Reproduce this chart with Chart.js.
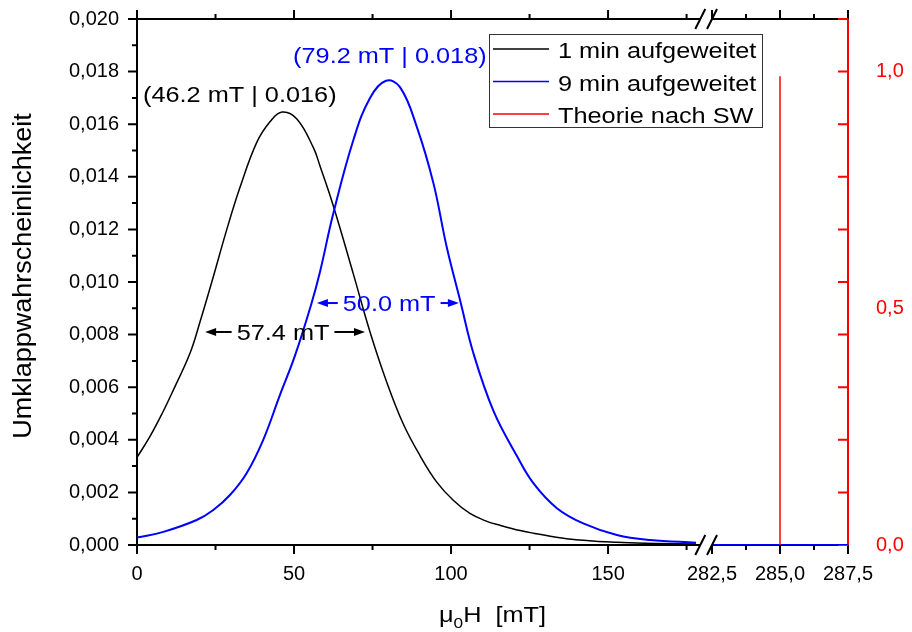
<!DOCTYPE html>
<html>
<head>
<meta charset="utf-8">
<script src="https://cdn.jsdelivr.net/npm/chart.js@4"></script>
<style>
    body { margin: 0; background: #fff; }
</style>
</head>
<body>
<canvas id="chart" width="912" height="632"></canvas>
<script>
// Werte (Feld in mT, Wahrscheinlichkeit)
const blackField = [0, 4, 8, 11.6, 16.9, 20.1, 24.3, 28.6, 32.8, 38.1, 42.4, 46.2, 50.9, 56.2, 58.3, 62.5, 68.9, 74.2, 79.5, 84.8, 90.1, 95.4, 100.7, 106, 111.4, 115.6, 122, 126.2, 136.8, 152.8, 165, 178, null, 282.5, 287.5];
const blackProb = [0.00333, 0.0041, 0.0050, 0.0059, 0.0073, 0.0085, 0.0102, 0.0120, 0.0136, 0.0153, 0.0161, 0.01646, 0.0162, 0.0151, 0.0144, 0.0129, 0.0103, 0.0081, 0.0062, 0.0046, 0.0034, 0.0024, 0.0017, 0.0012, 0.0009, 0.00075, 0.00055, 0.00045, 0.00024, 0.0001, 0.00006, 0.00004, null, 0, 0];

const blueField = [0, 8.4, 19, 24.3, 29.6, 34.9, 40.2, 45.5, 50.3, 55.6, 58.3, 62.5, 68.9, 74.2, 79.3, 83.8, 89.1, 94.4, 98.6, 102.9, 107.1, 113.5, 120.9, 126.2, 133.7, 142.1, 152.8, 163.4, 178, null, 282.5, 287.5];
const blueProb = [0.00028, 0.0005, 0.00095, 0.00133, 0.0019, 0.00273, 0.0040, 0.0057, 0.0072, 0.0092, 0.0104, 0.0126, 0.0154, 0.0170, 0.01765, 0.0174, 0.0159, 0.01375, 0.01134, 0.0093, 0.0073, 0.0051, 0.0034, 0.00235, 0.0014, 0.00082, 0.00038, 0.00019, 0.00009, null, 0, 0];

const swField = [285, 285];
const swProb = [0.99, 0];

const seriesLabels = ['1 min aufgeweitet', '9 min aufgeweitet', 'Theorie nach SW'];

const xTickFields = [0, 50, 100, 150, 282.5, 285, 287.5];
const xTickLabels = ['0', '50', '100', '150', '282,5', '285,0', '287,5'];
const xMinorFields = [25, 75, 125, 175, 283.75, 286.25];
const yTicks = [0, 0.002, 0.004, 0.006, 0.008, 0.010, 0.012, 0.014, 0.016, 0.018, 0.020];
const yMinorTicks = [0.001, 0.003, 0.005, 0.007, 0.009, 0.011, 0.013, 0.015, 0.017, 0.019];
const swTicks = [0, 0.5, 1.0];

// gebrochene x-Achse: 0..180 linear, danach 282,5..287,5 gestreckt
const LEFT_END = 180;
const RIGHT_START = 282.5;
const RIGHT_END = 287.5;
const RIGHT_U0 = 183.1;
const RIGHT_SCALE = 8.66;
const U_MAX = RIGHT_U0 + (RIGHT_END - RIGHT_START) * RIGHT_SCALE;

function toAxis(field) {
    if (field === null) return (LEFT_END + RIGHT_U0) / 2;
    return field <= LEFT_END ? field : RIGHT_U0 + (field - RIGHT_START) * RIGHT_SCALE;
}

function pairs(fields, values) {
    return fields.map((f, i) => ({x: toAxis(f), y: values[i]}));
}

const FONT = 'Liberation Sans, Arial, sans-serif';
Chart.defaults.font.family = FONT;

function stretchedText(ctx, text, x, y, size, color, sx, align) {
    ctx.save();
    ctx.font = size + 'px ' + FONT;
    ctx.fillStyle = color;
    ctx.textBaseline = 'alphabetic';
    let w = ctx.measureText(text).width * sx;
    let left = align === 'center' ? x - w / 2 : x;
    ctx.translate(left, y);
    ctx.scale(sx, 1);
    ctx.fillText(text, 0, 0);
    ctx.restore();
    return w;
}

function arrow(ctx, fromX, tipX, y, color) {
    let dir = tipX > fromX ? 1 : -1;
    ctx.save();
    ctx.strokeStyle = color;
    ctx.fillStyle = color;
    ctx.lineWidth = 2;
    ctx.beginPath();
    ctx.moveTo(fromX, y);
    ctx.lineTo(tipX - dir * 8, y);
    ctx.stroke();
    ctx.beginPath();
    ctx.moveTo(tipX, y);
    ctx.lineTo(tipX - dir * 11, y - 4);
    ctx.lineTo(tipX - dir * 11, y + 4);
    ctx.closePath();
    ctx.fill();
    ctx.restore();
}

function noPadding(s) {
    s.paddingTop = 0;
    s.paddingBottom = 0;
    s.paddingLeft = 0;
    s.paddingRight = 0;
}

const framePlugin = {
    id: 'frame',
    beforeDatasetsDraw(chart) {
        const ctx = chart.ctx;
        const a = chart.chartArea;
        const x = chart.scales.x;
        const y = chart.scales.y;
        const breakL = x.getPixelForValue(toAxis(LEFT_END)) - 2;
        const breakR = x.getPixelForValue(toAxis(RIGHT_START));

        ctx.save();
        ctx.lineWidth = 2;
        ctx.strokeStyle = '#000';
        ctx.beginPath();
        // Achsenlinien unten und oben mit Unterbrechung
        [a.bottom, a.top].forEach(py => {
            ctx.moveTo(a.left, py);
            ctx.lineTo(breakL, py);
            ctx.moveTo(breakR, py);
            ctx.lineTo(a.right, py);
        });
        ctx.moveTo(a.left, a.top);
        ctx.lineTo(a.left, a.bottom);

        xTickFields.forEach(f => {
            let px = x.getPixelForValue(toAxis(f));
            ctx.moveTo(px, a.bottom);
            ctx.lineTo(px, a.bottom + 9);
            ctx.moveTo(px, a.top);
            ctx.lineTo(px, a.top - 9);
        });
        xMinorFields.forEach(f => {
            let px = x.getPixelForValue(toAxis(f));
            ctx.moveTo(px, a.bottom);
            ctx.lineTo(px, a.bottom + 5);
            ctx.moveTo(px, a.top);
            ctx.lineTo(px, a.top - 5);
        });
        yTicks.forEach(v => {
            let py = y.getPixelForValue(v);
            ctx.moveTo(a.left, py);
            ctx.lineTo(a.left - 9, py);
        });
        yMinorTicks.forEach(v => {
            let py = y.getPixelForValue(v);
            ctx.moveTo(a.left, py);
            ctx.lineTo(a.left - 5, py);
        });
        ctx.stroke();

        // rechte Achse (rot), Ticks nach innen
        ctx.strokeStyle = '#ff0000';
        ctx.beginPath();
        ctx.moveTo(a.right, a.top);
        ctx.lineTo(a.right, a.bottom);
        yTicks.forEach(v => {
            let py = y.getPixelForValue(v);
            ctx.moveTo(a.right, py);
            ctx.lineTo(a.right - 10, py);
        });
        ctx.stroke();
        ctx.restore();
    },
    afterDatasetsDraw(chart) {
        const ctx = chart.ctx;
        const a = chart.chartArea;
        const x = chart.scales.x;
        const y = chart.scales.y;
        const breakL = x.getPixelForValue(toAxis(LEFT_END)) - 2;
        const breakR = x.getPixelForValue(toAxis(RIGHT_START));

        // Bruchzeichen
        ctx.save();
        ctx.strokeStyle = '#000';
        ctx.lineWidth = 2;
        ctx.beginPath();
        [a.bottom, a.top].forEach(py => {
            [breakL, breakR].forEach(px => {
                ctx.moveTo(px - 5, py + 10);
                ctx.lineTo(px + 5, py - 10);
            });
        });
        ctx.stroke();
        ctx.restore();

        // Legende
        const lx = 489, ly = 34, lw = 273, lh = 93;
        ctx.save();
        ctx.fillStyle = '#fff';
        ctx.fillRect(lx, ly, lw, lh);
        ctx.strokeStyle = '#333';
        ctx.lineWidth = 1;
        ctx.strokeRect(lx + 0.5, ly + 0.5, lw, lh);
        chart.data.datasets.forEach((ds, i) => {
            let rowY = ly + 15 + i * 32.5;
            ctx.strokeStyle = ds.borderColor;
            ctx.lineWidth = 1.5;
            ctx.beginPath();
            ctx.moveTo(lx + 4, rowY);
            ctx.lineTo(lx + 60, rowY);
            ctx.stroke();
            stretchedText(ctx, ds.label, lx + 69, rowY + 9, 22, '#000', 1.15, 'left');
        });
        ctx.restore();

        // Beschriftungen der Maxima und Halbwertsbreiten
        stretchedText(ctx, '(46.2 mT | 0.016)', x.getPixelForValue(1.9), y.getPixelForValue(0.01684), 22, '#000', 1.15, 'left');
        stretchedText(ctx, '(79.2 mT | 0.018)', x.getPixelForValue(49.7), y.getPixelForValue(0.01833), 22, '#0000ff', 1.15, 'left');

        let yb = y.getPixelForValue(0.0081);
        let tw = stretchedText(ctx, '57.4 mT', x.getPixelForValue(46.5), yb + 8, 22, '#000', 1.15, 'center');
        let cx = x.getPixelForValue(46.5);
        arrow(ctx, cx - tw / 2 - 5, x.getPixelForValue(21.7), yb, '#000');
        arrow(ctx, cx + tw / 2 + 5, x.getPixelForValue(72.6), yb, '#000');

        let yr = y.getPixelForValue(0.0092);
        tw = stretchedText(ctx, '50.0 mT', x.getPixelForValue(80.3), yr + 8, 22, '#0000ff', 1.15, 'center');
        cx = x.getPixelForValue(80.3);
        arrow(ctx, cx - tw / 2 - 5, x.getPixelForValue(57.3), yr, '#0000ff');
        arrow(ctx, cx + tw / 2 + 5, x.getPixelForValue(102.5), yr, '#0000ff');

        // Achsentitel
        ctx.save();
        ctx.translate(22, 276);
        ctx.rotate(-Math.PI / 2);
        stretchedText(ctx, 'Umklappwahrscheinlichkeit', 0, 9, 25, '#000', 1.08, 'center');
        ctx.restore();

        ctx.save();
        let parts = [['\u03bc', 22, 0], ['0', 15, 6], ['H  [mT]', 22, 0]];
        let total = 0;
        parts.forEach(p => { ctx.font = p[1] + 'px ' + FONT; total += ctx.measureText(p[0]).width * 1.15; });
        let px = (a.left + a.right) / 2 - total / 2;
        parts.forEach(p => {
            px += stretchedText(ctx, p[0], px, 622 + p[2], p[1], '#000', 1.15, 'left');
        });
        ctx.restore();
    }
};

new Chart(document.getElementById('chart').getContext('2d'), {
    type: 'line',
    data: {
        datasets: [{
            label: seriesLabels[0],
            data: pairs(blackField, blackProb),
            borderColor: '#000000',
            borderWidth: 1.5,
            yAxisID: 'y',
            order: 2
        }, {
            label: seriesLabels[1],
            data: pairs(blueField, blueProb),
            borderColor: '#0000ff',
            borderWidth: 2,
            yAxisID: 'y',
            order: 1
        }, {
            label: seriesLabels[2],
            data: pairs(swField, swProb),
            borderColor: '#ff0000',
            borderWidth: 1.5,
            yAxisID: 'y2',
            order: 0
        }]
    },
    options: {
        responsive: false,
        animation: false,
        parsing: false,
        layout: {padding: {top: 19, left: 0, right: 0, bottom: 0}},
        elements: {
            point: {radius: 0},
            line: {tension: 0.4, fill: false}
        },
        plugins: {
            legend: {display: false},
            tooltip: {enabled: false}
        },
        scales: {
            x: {
                type: 'linear',
                min: 0,
                max: U_MAX,
                afterBuildTicks: s => { s.ticks = xTickFields.map(f => ({value: toAxis(f)})); },
                afterFit: s => { s.height = 87; noPadding(s); },
                grid: {display: false, drawTicks: false},
                border: {display: false},
                ticks: {
                    autoSkip: false,
                    maxRotation: 0,
                    padding: 17,
                    color: '#000',
                    font: {size: 20},
                    callback: (v, i) => xTickLabels[i]
                }
            },
            y: {
                type: 'linear',
                position: 'left',
                min: 0,
                max: 0.02,
                afterBuildTicks: s => { s.ticks = yTicks.map(v => ({value: v})); },
                afterFit: s => { s.width = 137; noPadding(s); },
                grid: {display: false, drawTicks: false},
                border: {display: false},
                ticks: {
                    padding: 18,
                    color: '#000',
                    font: {size: 20},
                    callback: v => v.toFixed(3).replace('.', ',')
                }
            },
            y2: {
                type: 'linear',
                position: 'right',
                min: 0,
                max: 1 / 0.9,
                afterBuildTicks: s => { s.ticks = swTicks.map(v => ({value: v})); },
                afterFit: s => { s.width = 64; noPadding(s); },
                grid: {display: false, drawTicks: false},
                border: {display: false},
                ticks: {
                    padding: 28,
                    color: '#ff0000',
                    font: {size: 20},
                    callback: v => v.toFixed(1).replace('.', ',')
                }
            }
        }
    },
    plugins: [framePlugin]
});
</script>
</body>
</html>
